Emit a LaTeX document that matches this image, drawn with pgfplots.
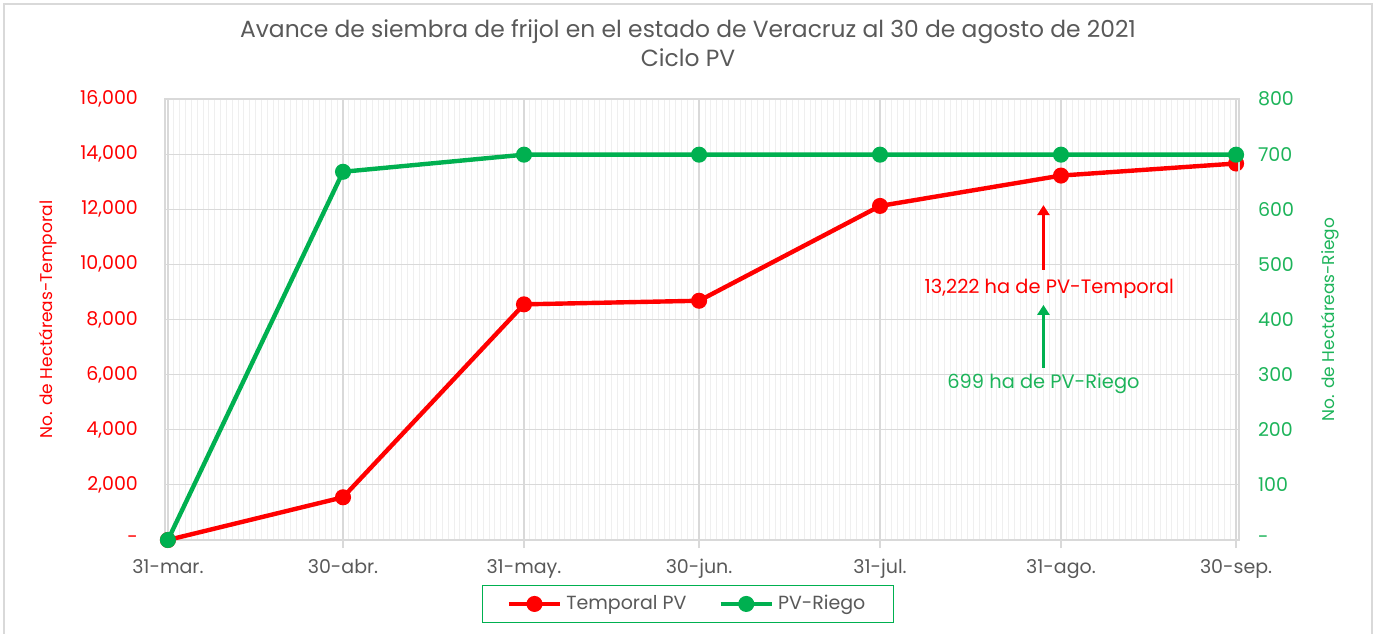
\documentclass[border=0pt]{standalone}
\usepackage{pgfplots}
\pgfplotsset{compat=1.18}
\usepackage{fontspec}
\setmainfont{Poppins}
\usetikzlibrary{arrows.meta}
\definecolor{rojo}{HTML}{FF0000}
\definecolor{verde}{HTML}{00B050}
\definecolor{verdet}{HTML}{1DB45A}
\definecolor{gristxt}{HTML}{595959}
\definecolor{gridc}{HTML}{D9D9D9}
\definecolor{gridmin}{HTML}{EFEFEF}
\begin{document}
\begin{tikzpicture}
\useasboundingbox (-82.5pt,-46.5pt) rectangle (606pt,270pt);
\draw[gridc, line width=0.8pt] (-80.5pt,-47pt) -- (-80.5pt,268pt) -- (603.5pt,268pt) -- (603.5pt,-47pt);
\node[text=gristxt, font=\fontsize{11.7}{13}\selectfont] at (261.5pt,254pt) {Avance de siembra de frijol en el estado de Veracruz al 30 de agosto de 2021};
\node[text=gristxt, font=\fontsize{11.7}{13}\selectfont] at (261.5pt,241pt) {Ciclo PV};
\begin{axis}[
  at={(0,0)}, anchor=south west, scale only axis,
  width=537pt, height=220.5pt,
  xmin=-0.5, xmax=183.5, ymin=0, ymax=16000,
  xtick={0,30,61,91,122,153,183},
  xticklabels={31-mar.,30-abr.,31-may.,30-jun.,31-jul.,31-ago.,30-sep.},
  minor xtick={0,...,183},
  xmajorgrids, xminorgrids, ymajorgrids,
  major grid style={gridc, line width=0.6pt},
  minor grid style={gridmin, line width=0.4pt},
  ytick={0,2000,...,16000},
  yticklabels={-,{2,000},{4,000},{6,000},{8,000},{10,000},{12,000},{14,000},{16,000}},
  scaled y ticks=false,
  axis line style={gridc, line width=0.6pt},
  xtick pos=bottom, ytick pos=left,
  tick align=outside, major tick length=4pt, minor tick length=0pt,
  xtick style={gridc, line width=0.6pt},
  ytick style={draw=none},
  x tick label style={text=gristxt, font=\fontsize{9.5}{11}\selectfont, yshift=-2pt},
  y tick label style={text=rojo, font=\fontsize{9.5}{11}\selectfont, xshift=-6pt},
  ylabel={No. de Hectáreas-Temporal},
  ylabel style={text=rojo, font=\fontsize{8.5}{10}\selectfont, at={(rel axis cs:-0.109,0.5)}, anchor=center},
  /pgf/number format/assume math mode=true,
  clip=false,
]
\addplot[rojo, line width=2.2pt, mark=*, mark size=2.9pt] coordinates {
(0,0) (30,1550) (61,8550) (91,8680) (122,12120) (153,13222) (183,13660)};
\draw[rojo, line width=1.5pt, -{Triangle[width=6pt,length=5pt]}] (axis cs:150,9800) -- (axis cs:150,12150);
\node[text=rojo, font=\fontsize{9.7}{11}\selectfont] at (axis cs:151,9110) {13,222 ha de PV-Temporal};
\draw[verde, line width=1.5pt, -{Triangle[width=6pt,length=5pt]}] (axis cs:150,6240) -- (axis cs:150,8530);
\node[text=verdet, font=\fontsize{9.7}{11}\selectfont] at (axis cs:150,5660) {699 ha de PV-Riego};
\end{axis}
\begin{axis}[
  at={(0,0)}, anchor=south west, scale only axis,
  width=537pt, height=220.5pt,
  xmin=-0.5, xmax=183.5, ymin=0, ymax=800,
  axis x line=none, axis y line*=right,
  ytick={0,100,...,800},
  yticklabels={-,100,200,300,400,500,600,700,800},
  axis line style={gridc, line width=0.6pt},
  ytick style={draw=none},
  y tick label style={text=verdet, font=\fontsize{9.5}{11}\selectfont, xshift=6pt},
  ylabel={No. de Hectáreas-Riego},
  ylabel style={text=verdet, font=\fontsize{8.5}{10}\selectfont, at={(rel axis cs:1.0847,0.5)}, anchor=center},
  /pgf/number format/assume math mode=true,
  clip=false,
  legend style={at={(0.487,-0.145)}, anchor=center, legend columns=2, draw=verde, line width=0.6pt,
    font=\fontsize{9.5}{11}\selectfont, text=gristxt, inner xsep=12pt, inner ysep=3pt,
    /tikz/every even column/.append style={column sep=14pt}},
  legend image code/.code={\draw[mark repeat=2,mark phase=2] plot coordinates {(0cm,0cm) (0.45cm,0cm) (0.9cm,0cm)};},
]
\addlegendimage{rojo, line width=2.2pt, mark=*, mark size=2.9pt}
\addlegendentry{Temporal PV}
\addplot[verde, line width=2.2pt, mark=*, mark size=2.9pt] coordinates {
(0,0) (30,668) (61,699) (91,699) (122,699) (153,699) (183,699)};
\addlegendentry{PV-Riego}
\end{axis}
\end{tikzpicture}
\end{document}
